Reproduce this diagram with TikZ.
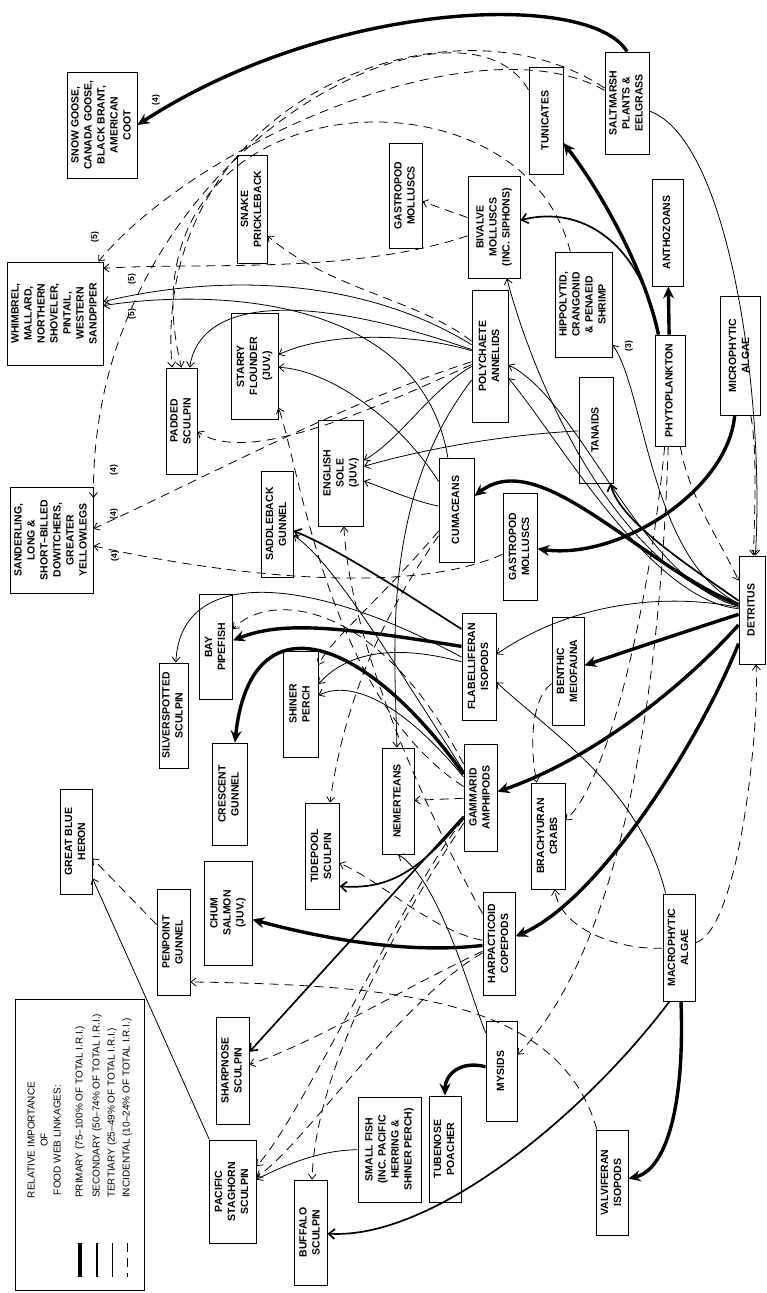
\documentclass[tikz,border=0pt]{standalone}
\usepackage{fontspec}
\setmainfont{Liberation Sans}
\usepackage{graphicx}
\usetikzlibrary{arrows.meta}

\newcommand{\vlabel}[1]{\rotatebox{90}{\begin{tabular}{@{}c@{}}#1\end{tabular}}}

\begin{document}
\begin{tikzpicture}
  [x=1pt,y=-1pt,
   taxon/.style={draw,line width=0.9pt,inner sep=0pt,font=\bfseries\fontsize{10.5}{13}\selectfont},
   keytext/.style={inner sep=0pt,font=\fontsize{10}{13}\selectfont},
   tagtext/.style={inner sep=0pt,font=\bfseries\fontsize{8.5}{10}\selectfont},
   prim/.style={line width=3.4pt,-{Stealth[length=12pt,width=11pt,inset=4pt]}},
   sec/.style={line width=1.7pt,-{Straight Barb[length=6pt,width=10pt]}},
   tert/.style={line width=0.8pt,-{Straight Barb[length=5pt,width=8pt]}},
   inc/.style={tert,dash pattern=on 9pt off 6pt}]
  \useasboundingbox (0,0) rectangle (767,1293);

  % consumers and food sources
  \node[taxon,minimum width=70pt,minimum height=106pt] (goose) at (102,125) {\vlabel{SNOW GOOSE,\\CANADA GOOSE,\\BLACK BRANT,\\AMERICAN\\COOT}};
  \node[taxon,minimum width=96pt,minimum height=103pt] (whimbrel) at (55,313.5) {\vlabel{WHIMBREL,\\MALLARD,\\NORTHERN\\SHOVELER,\\PINTAIL,\\WESTERN\\SANDPIPER}};
  \node[taxon,minimum width=30pt,minimum height=108pt] (snake) at (252,209) {\vlabel{SNAKE\\PRICKLEBACK}};
  \node[taxon,minimum width=33pt,minimum height=105pt] (gastroA) at (405.5,195.5) {\vlabel{GASTROPOD\\MOLLUSCS}};
  \node[taxon,minimum width=52pt,minimum height=102pt] (bivalve) at (494,227) {\vlabel{BIVALVE\\MOLLUSCS\\(INC. SIPHONS)}};
  \node[taxon,minimum width=34pt,minimum height=107pt] (tunicates) at (546,120.5) {\vlabel{TUNICATES}};
  \node[taxon,minimum width=44pt,minimum height=102pt] (saltmarsh) at (627,103) {\vlabel{SALTMARSH\\PLANTS \&\\EELGRASS}};
  \node[taxon,minimum width=31pt,minimum height=107pt] (anthozoans) at (667.5,232.5) {\vlabel{ANTHOZOANS}};
  \node[taxon,minimum width=57pt,minimum height=105pt] (shrimp) at (583.5,304.5) {\vlabel{HIPPOLYTID,\\CRANGONID\\\& PENAEID\\SHRIMP}};
  \node[taxon,minimum width=30pt,minimum height=111pt] (phyto) at (670,390.5) {\vlabel{PHYTOPLANKTON}};
  \node[taxon,minimum width=40pt,minimum height=119pt] (micro) at (740,355.5) {\vlabel{MICROPHYTIC\\ALGAE}};
  \node[taxon,minimum width=34pt,minimum height=106pt] (tanaids) at (596,430) {\vlabel{TANAIDS}};
  \node[taxon,minimum width=36pt,minimum height=132pt] (poly) at (490,356) {\vlabel{POLYCHAETE\\ANNELIDS}};
  \node[taxon,minimum width=35pt,minimum height=104pt] (cumaceans) at (456.5,510) {\vlabel{CUMACEANS}};
  \node[taxon,minimum width=34pt,minimum height=107pt] (gastroB) at (520,546.5) {\vlabel{GASTROPOD\\MOLLUSCS}};
  \node[taxon,minimum width=26pt,minimum height=108pt] (detritus) at (752,610) {\vlabel{DETRITUS}};
  \node[taxon,minimum width=47pt,minimum height=106pt] (starry) at (254.5,366) {\vlabel{STARRY\\FLOUNDER\\(JUV.)}};
  \node[taxon,minimum width=31pt,minimum height=106pt] (padded) at (181.5,421) {\vlabel{PADDED\\SCULPIN}};
  \node[taxon,minimum width=45pt,minimum height=106pt] (english) at (341,473) {\vlabel{ENGLISH\\SOLE\\(JUV.)}};
  \node[taxon,minimum width=32pt,minimum height=106pt] (saddle) at (277,524) {\vlabel{SADDLEBACK\\GUNNEL}};
  \node[taxon,minimum width=83pt,minimum height=106pt] (sanderling) at (51.5,540) {\vlabel{SANDERLING,\\LONG \&\\SHORT--BILLED\\DOWITCHERS,\\GREATER\\YELLOWLEGS}};
  \node[taxon,minimum width=33pt,minimum height=105pt] (pipefish) at (216,647) {\vlabel{BAY\\PIPEFISH}};
  \node[taxon,minimum width=29pt,minimum height=105pt] (silver) at (173.5,715.5) {\vlabel{SILVERSPOTTED\\SCULPIN}};
  \node[taxon,minimum width=35pt,minimum height=106pt] (shiner) at (300.5,704) {\vlabel{SHINER\\PERCH}};
  \node[taxon,minimum width=35pt,minimum height=102pt] (crescent) at (229.5,794) {\vlabel{CRESCENT\\GUNNEL}};
  \node[taxon,minimum width=32pt,minimum height=105pt] (heron) at (76,841.5) {\vlabel{GREAT BLUE\\HERON}};
  \node[taxon,minimum width=34pt,minimum height=106pt] (tidepool) at (322,856) {\vlabel{TIDEPOOL\\SCULPIN}};
  \node[taxon,minimum width=32pt,minimum height=106pt] (nemerteans) at (398,801) {\vlabel{NEMERTEANS}};
  \node[taxon,minimum width=48pt,minimum height=104pt] (chum) at (228,913) {\vlabel{CHUM\\SALMON\\(JUV.)}};
  \node[taxon,minimum width=33pt,minimum height=106pt] (penpoint) at (173.5,942) {\vlabel{PENPOINT\\GUNNEL}};
  \node[taxon,minimum width=34pt,minimum height=107pt] (flabel) at (479,666.5) {\vlabel{FLABELLIFERAN\\ISOPODS}};
  \node[taxon,minimum width=32pt,minimum height=108pt] (benthic) at (568,671) {\vlabel{BENTHIC\\MEIOFAUNA}};
  \node[taxon,minimum width=33pt,minimum height=107pt] (gammarid) at (480.5,797.5) {\vlabel{GAMMARID\\AMPHIPODS}};
  \node[taxon,minimum width=34pt,minimum height=106pt] (crabs) at (548,836) {\vlabel{BRACHYURAN\\CRABS}};
  \node[taxon,minimum width=32pt,minimum height=103pt] (harpact) at (499,943.5) {\vlabel{HARPACTICOID\\COPEPODS}};
  \node[taxon,minimum width=32pt,minimum height=107pt] (macro) at (679,947.5) {\vlabel{MACROPHYTIC\\ALGAE}};
  \node[taxon,minimum width=31pt,minimum height=100pt] (mysids) at (501.5,1071) {\vlabel{MYSIDS}};
  \node[taxon,minimum width=32pt,minimum height=106pt] (tubenose) at (445,1149) {\vlabel{TUBENOSE\\POACHER}};
  \node[taxon,minimum width=63pt,minimum height=105pt] (smallfish) at (389.5,1149.5) {\vlabel{SMALL FISH\\(INC. PACIFIC\\HERRING \&\\SHINER PERCH)}};
  \node[taxon,minimum width=32pt,minimum height=105pt] (valvifer) at (612,1182.5) {\vlabel{VALVIFERAN\\ISOPODS}};
  \node[taxon,minimum width=33pt,minimum height=107pt] (sharpnose) at (232.5,1070.5) {\vlabel{SHARPNOSE\\SCULPIN}};
  \node[taxon,minimum width=47pt,minimum height=103pt] (staghorn) at (232.5,1191.5) {\vlabel{PACIFIC\\STAGHORN\\SCULPIN}};
  \node[taxon,minimum width=33pt,minimum height=105pt] (buffalo) at (310.5,1232.5) {\vlabel{BUFFALO\\SCULPIN}};

  % primary links
  \draw[prim] (saltmarsh.north) .. controls (590,-10) and (330,0) .. (goose.east);
  \draw[prim] (phyto) .. controls (645,270) and (600,190) .. (tunicates);
  \draw[prim] (phyto) -- (anthozoans);
  \draw[prim] (micro) .. controls (728,490) and (620,560) .. (gastroB);
  \draw[prim] (detritus) .. controls (640,565) and (540,445) .. (cumaceans);
  \draw[prim] (detritus) .. controls (690,630) and (630,650) .. (benthic);
  \draw[prim] (detritus) .. controls (680,690) and (590,760) .. (gammarid);
  \draw[prim] (detritus) .. controls (700,740) and (600,900) .. (harpact);
  \draw[prim] (flabel.131) .. controls (330,625) and (280,622) .. (pipefish);
  \draw[prim] (gammarid) .. controls (360,630) and (250,600) .. (crescent);
  \draw[prim] (harpact) .. controls (400,955) and (310,935) .. (chum);
  \draw[prim] (mysids) .. controls (460,1060) and (445,1075) .. (tubenose);
  \draw[prim] (macro) .. controls (685,1110) and (665,1170) .. (valvifer);

  % secondary links
  \draw[sec] (phyto) .. controls (640,240) and (580,205) .. (bivalve);
  \draw[sec] (flabel.115) .. controls (400,590) and (340,550) .. (saddle);
  \draw[sec] (gammarid) .. controls (420,870) and (390,890) .. (tidepool.-60);
  \draw[sec] (gammarid) -- (sharpnose);
  \draw[sec] (macro.-100) .. controls (580,1120) and (430,1240) .. (buffalo);
  \draw[sec] (detritus) .. controls (680,560) and (620,520) .. (tanaids);

  % tertiary links
  \draw[tert] (saltmarsh) .. controls (730,140) and (765,400) .. (detritus);
  \draw[tert] (macro) .. controls (640,790) and (560,740) .. (flabel);
  \draw[tert] (detritus) .. controls (650,560) and (645,390) .. (shrimp);
  \draw[tert] (detritus) .. controls (640,580) and (580,400) .. (poly);
  \draw[tert] (detritus) .. controls (650,600) and (560,440) .. (poly);
  \draw[tert] (detritus) .. controls (650,590) and (560,610) .. (flabel);
  \draw[tert] (detritus) .. controls (600,560) and (525,350) .. (bivalve);
  \draw[tert] (staghorn) -- (heron);
  \draw[tert] (smallfish) .. controls (320,1150) and (285,1165) .. (staghorn);
  \draw[tert] (poly) .. controls (350,270) and (200,278) .. (whimbrel);
  \draw[tert] (cumaceans) .. controls (420,290) and (200,290) .. (whimbrel);
  \draw[tert] (poly) .. controls (300,290) and (200,300) .. (padded);
  \draw[tert] (poly) .. controls (400,330) and (320,335) .. (starry);
  \draw[tert] (cumaceans) .. controls (400,420) and (330,370) .. (starry);
  \draw[tert] (poly) .. controls (430,390) and (400,440) .. (english);
  \draw[tert] (tanaids) .. controls (500,435) and (420,450) .. (english);
  \draw[tert] (cumaceans) .. controls (410,500) and (390,490) .. (english);
  \draw[tert] (gammarid) .. controls (380,640) and (330,560) .. (saddle);
  \draw[tert] (flabel) .. controls (300,570) and (180,570) .. (silver);
  \draw[tert] (flabel) .. controls (380,640) and (340,660) .. (shiner);
  \draw[tert] (gammarid) .. controls (400,700) and (350,680) .. (shiner);
  \draw[tert] (poly) .. controls (380,500) and (395,650) .. (nemerteans);
  \draw[tert] (mysids) .. controls (472,1000) and (440,880) .. (nemerteans.south);

  % incidental links
  \draw[inc] (bivalve) -- (gastroA);
  \draw[inc] (penpoint) -- (heron);
  \draw[inc] (gammarid) -- (nemerteans);
  \draw[inc] (saltmarsh) .. controls (480,20) and (200,140) .. (whimbrel);
  \draw[inc] (bivalve) .. controls (350,275) and (200,262) .. (whimbrel.43);
  \draw[inc] (poly) .. controls (420,300) and (330,290) .. (snake.-60);
  \draw[inc] (tunicates) .. controls (460,-30) and (90,150) .. (sanderling.45);
  \draw[inc] (poly) .. controls (350,400) and (200,480) .. (sanderling.15);
  \draw[inc] (gastroB) .. controls (400,600) and (200,570) .. (sanderling.-8);
  \draw[inc] (poly) .. controls (330,430) and (240,460) .. (padded);
  \draw[inc] (saltmarsh) .. controls (450,-15) and (150,100) .. (padded.100);
  \draw[inc] (shrimp) .. controls (520,50) and (110,80) .. (padded.north);
  \draw[inc] (gammarid) .. controls (330,700) and (300,470) .. (starry.-60);
  \draw[inc] (harpact) .. controls (420,800) and (350,640) .. (english);
  \draw[inc] (gammarid) .. controls (380,600) and (270,590) .. (pipefish);
  \draw[inc] (cumaceans) .. controls (380,600) and (330,640) .. (shiner);
  \draw[inc] (cumaceans) .. controls (380,620) and (345,700) .. (tidepool);
  \draw[inc] (harpact) .. controls (430,930) and (380,880) .. (tidepool);
  \draw[inc] (harpact) .. controls (400,990) and (320,1040) .. (sharpnose);
  \draw[inc] (harpact) .. controls (400,1000) and (300,1150) .. (staghorn);
  \draw[inc] (gammarid) .. controls (400,900) and (300,1120) .. (staghorn);
  \draw[inc] (gammarid) .. controls (380,950) and (315,1080) .. (buffalo);
  \draw[inc] (valvifer) .. controls (560,1000) and (400,985) .. (penpoint.-67);
  \draw[inc] (phyto) .. controls (660,700) and (620,950) .. (mysids);
  \draw[inc] (phyto) .. controls (690,500) and (720,540) .. (detritus);
  \draw[inc] (micro) .. controls (757,450) and (755,500) .. (detritus);
  \draw[inc] (macro) .. controls (740,930) and (760,720) .. (detritus);
  \draw[inc] (benthic) .. controls (530,700) and (530,750) .. (crabs);
  \draw[inc] (phyto) .. controls (650,600) and (610,780) .. (crabs);
  \draw[inc] (macro) .. controls (620,950) and (560,930) .. (crabs);

  % footnote marks
  \node[tagtext] (m4a) at (156,100) {\rotatebox{90}{(4)}};
  \node[tagtext] (m5a) at (95,237) {\rotatebox{90}{(5)}};
  \node[tagtext] (m5b) at (132,279) {\rotatebox{90}{(5)}};
  \node[tagtext] (m5c) at (132,314) {\rotatebox{90}{(5)}};
  \node[tagtext] (m4b) at (114,470) {\rotatebox{90}{(4)}};
  \node[tagtext] (m4c) at (114,514) {\rotatebox{90}{(4)}};
  \node[tagtext] (m4d) at (115,556) {\rotatebox{90}{(4)}};
  \node[tagtext] (m3) at (629,346) {\rotatebox{90}{(3)}};

  % legend
  \node[draw,line width=0.9pt,inner sep=0pt,minimum width=129pt,minimum height=291pt] (legend) at (79.5,1144.5) {};
  \node[keytext] (keytitle) at (45,1140) {\vlabel{RELATIVE IMPORTANCE\\OF\\FOOD WEB LINKAGES:}};
  \node[keytext,anchor=south] (keyprim) at (80,1198) {\rotatebox{90}{PRIMARY (75--100\% OF TOTAL I.R.I.)}};
  \node[keytext,anchor=south] (keysec) at (97,1198) {\rotatebox{90}{SECONDARY (50--74\% OF TOTAL I.R.I.)}};
  \node[keytext,anchor=south] (keytert) at (112,1198) {\rotatebox{90}{TERTIARY (25--49\% OF TOTAL I.R.I.)}};
  \node[keytext,anchor=south] (keyinc) at (127,1198) {\rotatebox{90}{INCIDENTAL (10--24\% OF TOTAL I.R.I.)}};
  \draw[line width=3.4pt] (80,1243) -- (80,1277);
  \draw[line width=1.7pt] (97,1243) -- (97,1277);
  \draw[line width=0.8pt] (112,1243) -- (112,1277);
  \draw[line width=0.8pt,dash pattern=on 9pt off 6pt] (127,1243) -- (127,1277);
\end{tikzpicture}
\end{document}
